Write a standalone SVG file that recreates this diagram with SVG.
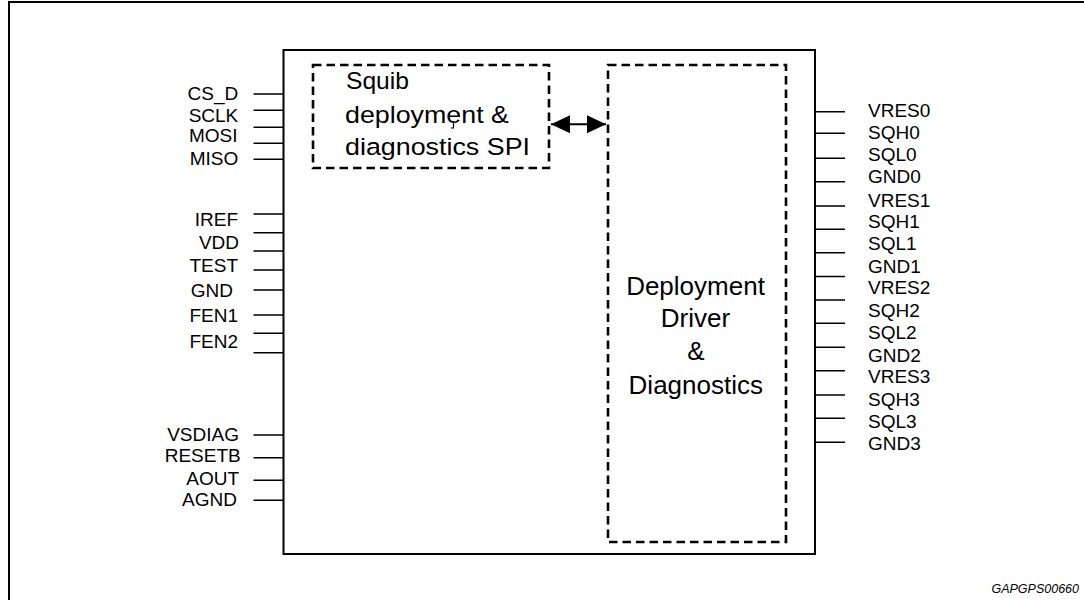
<svg xmlns="http://www.w3.org/2000/svg" width="1084" height="600" viewBox="0 0 1084 600">
<defs>
<style>
.pin{stroke:#000;stroke-width:1.6;fill:none}
.lbl{font-family:"Liberation Sans",Arial,sans-serif;font-size:19px;fill:#000}
.l{text-anchor:end}
.big{font-family:"Liberation Sans",Arial,sans-serif;font-size:24.5px;fill:#000}
.drv{font-family:"Liberation Sans",Arial,sans-serif;font-size:26px;fill:#000;text-anchor:middle}
.dash{fill:none;stroke:#000;stroke-width:2.6;stroke-dasharray:8.5 5}
</style>
<marker id="ah" viewBox="0 0 20 20" refX="19" refY="10" markerWidth="20" markerHeight="20" markerUnits="userSpaceOnUse" orient="auto-start-reverse">
<path d="M19,10 L0,1 L0,19 Z" fill="#000"/>
</marker>
</defs>
<rect width="1084" height="600" fill="#fff"/>
<path d="M9,600 V2 H1084" fill="none" stroke="#000" stroke-width="2"/>

<g id="chip">
<rect x="283.5" y="50" width="531.5" height="504" fill="none" stroke="#000" stroke-width="2"/>
</g>

<g id="spi">
<rect x="313" y="65" width="236" height="103" class="dash"/>
<text class="big" x="346" y="89" textLength="63" lengthAdjust="spacingAndGlyphs">Squib</text>
<text class="big" x="345" y="123" textLength="164" lengthAdjust="spacingAndGlyphs">deployment &amp;</text>
<text class="big" x="345" y="154.5" textLength="185" lengthAdjust="spacingAndGlyphs">diagnostics SPI</text>
<path d="M453.5,121 V128 H451" fill="none" stroke="#000" stroke-width="1.2"/>
</g>

<g id="driver">
<rect x="608" y="65" width="178" height="477" class="dash"/>
<text class="drv" x="695.5" y="295">Deployment</text>
<text class="drv" x="695.5" y="327">Driver</text>
<text class="drv" x="696" y="360">&amp;</text>
<text class="drv" x="695.8" y="393.5">Diagnostics</text>
</g>

<g id="connectors">
<line x1="551" y1="124.3" x2="606" y2="124.3" stroke="#000" stroke-width="2" marker-start="url(#ah)" marker-end="url(#ah)"/>
</g>

<g id="left-pins">
<path class="pin" d="M253.5,94H283.5M253.5,110.3H283.5M253.5,127.3H283.5M253.5,143.3H283.5M253.5,159.3H283.5
M253.5,214H283.5M253.5,232.7H283.5M253.5,251H283.5M253.5,270H283.5M253.5,290H283.5M253.5,315H283.5M253.5,333.3H283.5M253.5,352.7H283.5
M253.5,435H283.5M253.5,457.7H283.5M253.5,480.3H283.5M253.5,500.3H283.5"/>
<text class="lbl l" x="238.3" y="99.5">CS_D</text>
<text class="lbl l" x="238.3" y="121.7">SCLK</text>
<text class="lbl l" x="237.5" y="142">MOSI</text>
<text class="lbl l" x="238.3" y="164.7">MISO</text>
<text class="lbl l" x="238" y="226">IREF</text>
<text class="lbl l" x="239" y="249.3">VDD</text>
<text class="lbl l" x="238" y="271.7">TEST</text>
<text class="lbl l" x="233" y="296.7">GND</text>
<text class="lbl l" x="238" y="321.7">FEN1</text>
<text class="lbl l" x="238" y="347.7">FEN2</text>
<text class="lbl l" x="239" y="440.7">VSDIAG</text>
<text class="lbl l" x="240.7" y="461.7">RESETB</text>
<text class="lbl l" x="239" y="485">AOUT</text>
<text class="lbl l" x="237" y="506">AGND</text>
</g>

<g id="right-pins">
<path class="pin" d="M815,111.7H845M815,133.3H845M815,158.3H845M815,181.7H845M815,206H845M815,229.3H845M815,252.7H845M815,276.5H845
M815,300H845M815,323.3H845M815,347.3H845M815,370.7H845M815,395H845M815,418.3H845M815,442.3H845"/>
<text class="lbl" x="868" y="116.7">VRES0</text>
<text class="lbl" x="868" y="139.3">SQH0</text>
<text class="lbl" x="868" y="160.7">SQL0</text>
<text class="lbl" x="868" y="183.3">GND0</text>
<text class="lbl" x="868" y="206.7">VRES1</text>
<text class="lbl" x="868" y="228.3">SQH1</text>
<text class="lbl" x="868" y="250">SQL1</text>
<text class="lbl" x="868" y="273.3">GND1</text>
<text class="lbl" x="868" y="294">VRES2</text>
<text class="lbl" x="868" y="317.3">SQH2</text>
<text class="lbl" x="868" y="339">SQL2</text>
<text class="lbl" x="868" y="361.7">GND2</text>
<text class="lbl" x="868" y="382.7">VRES3</text>
<text class="lbl" x="868" y="406">SQH3</text>
<text class="lbl" x="868" y="428.3">SQL3</text>
<text class="lbl" x="868" y="450">GND3</text>
</g>

<text x="1079" y="593.3" font-family="'Liberation Sans',Arial,sans-serif" font-size="12.5" font-style="italic" text-anchor="end" fill="#000">GAPGPS00660</text>
</svg>
